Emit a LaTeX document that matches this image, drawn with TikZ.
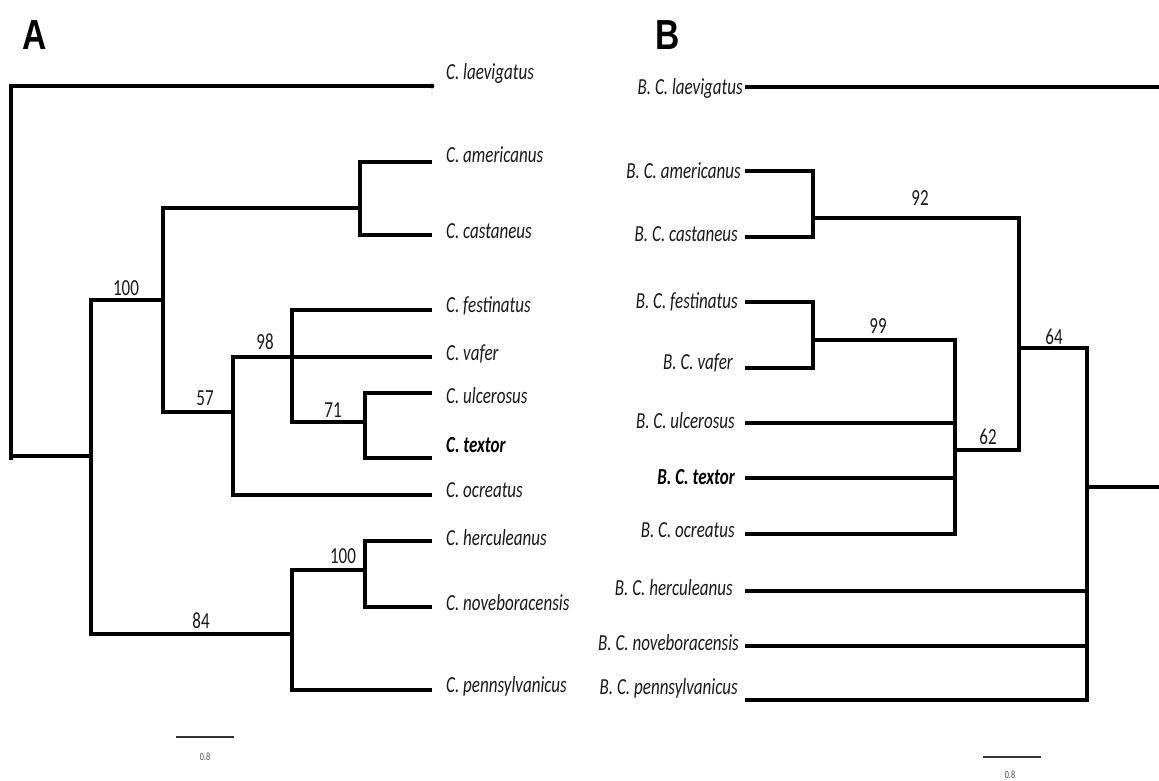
\documentclass[tikz,border=0pt]{standalone}
\usepackage{fontspec}
\newfontfamily\labfont[FakeStretch=0.74]{Carlito}
\newfontfamily\panfont[FakeStretch=0.8]{Liberation Sans}
\begin{document}
\begin{tikzpicture}[x=1pt,y=-1pt,
  br/.style={line width=3.1pt,black},
  scalebar/.style={line width=1.4pt,black!80},
  leafA/.style={anchor=base west,inner sep=0pt,font=\labfont\itshape\fontsize{23}{23}\selectfont,text=black!90},
  leafB/.style={anchor=base east,inner sep=0pt,font=\labfont\itshape\fontsize{23}{23}\selectfont,text=black!90},
  boot/.style={anchor=center,inner sep=0pt,font=\labfont\fontsize{23}{23}\selectfont,text=black!90},
  panel/.style={anchor=center,inner sep=0pt,font=\panfont\bfseries\fontsize{42}{42}\selectfont},
  scl/.style={anchor=center,inner sep=0pt,font=\labfont\fontsize{11}{11}\selectfont,text=black!70}]
\useasboundingbox[fill=white] (0,0) rectangle (1159,781);

% ---------------- Panel A ----------------
\node[panel] (pA) at (34.5,35) {A};

% leaf tips
\coordinate (tLae) at (432,86);
\coordinate (tAme) at (432,162);
\coordinate (tCas) at (432,235);
\coordinate (tFes) at (432,310);
\coordinate (tVaf) at (432,357);
\coordinate (tUlc) at (432,393);
\coordinate (tTex) at (432,458);
\coordinate (tOcr) at (432,495);
\coordinate (tHer) at (432,541);
\coordinate (tNov) at (432,607);
\coordinate (tPen) at (432,690);
% internal nodes
\coordinate (aR) at (11,456);
\coordinate (aRbot) at (11,460);
\coordinate (aN1) at (91,456);
\coordinate (aN2) at (163,300);
\coordinate (aNac) at (360,208);
\coordinate (aN57) at (233,412);
\coordinate (aN98) at (292,357);
\coordinate (aN71) at (365,422);
\coordinate (aN84) at (292,634);
\coordinate (aN100) at (365,570);

\draw[br] (tLae) -| (aR) -- (aRbot);
\fill (tLae) circle (2.4);
\draw[br] (aR) -- (aN1);
\draw[br] (aN2) -| (aN1) |- (aN84);
\draw[br] (aNac) -| (aN2) |- (aN57);
\draw[br] (tAme) -| (aNac) |- (tCas);
\draw[br] (tVaf) -| (aN57) |- (tOcr);
\draw[br] (tFes) -| (aN98) |- (aN71);
\draw[br] (tUlc) -| (aN71) |- (tTex);
\draw[br] (aN100) -| (aN84) |- (tPen);
\draw[br] (tHer) -| (aN100) |- (tNov);

% labels
\node[leafA] (lLae) at (446,79.5) {C. laevigatus};
\node[leafA] (lAme) at (446,162.5) {C. americanus};
\node[leafA] (lCas) at (446,238.5) {C. castaneus};
\node[leafA] (lFes) at (446,312.5) {C. festinatus};
\node[leafA] (lVaf) at (446,360.5) {C. vafer};
\node[leafA] (lUlc) at (446,403.5) {C. ulcerosus};
\node[leafA,font=\labfont\bfseries\itshape\fontsize{23}{23}\selectfont,text=black] (lTex) at (446,452.5) {C. textor};
\node[leafA] (lOcr) at (446,497.5) {C. ocreatus};
\node[leafA] (lHer) at (446,545.5) {C. herculeanus};
\node[leafA] (lNov) at (446,610.5) {C. noveboracensis};
\node[leafA] (lPen) at (446,692.5) {C. pennsylvanicus};

% bootstrap values
\node[boot] (bA100a) at (126,288) {100};
\node[boot] (bA98) at (265,342) {98};
\node[boot] (bA57) at (205,398) {57};
\node[boot] (bA71) at (333,410) {71};
\node[boot] (bA100b) at (343,556) {100};
\node[boot] (bA84) at (201,621) {84};

% scale bar
\coordinate (sA1) at (176,737);
\coordinate (sA2) at (234,737);
\draw[scalebar] (sA1) -- (sA2);
\node[scl] (sAl) at (205,757) {0.8};

% ---------------- Panel B ----------------
\node[panel] (pB) at (667.5,35) {B};

\coordinate (bLae) at (745,87);
\coordinate (bLaeEnd) at (1159,87);
\coordinate (bAme) at (745,171);
\coordinate (bCas) at (745,237);
\coordinate (bFes) at (745,302);
\coordinate (bVaf) at (745,368);
\coordinate (bUlc) at (745,423);
\coordinate (bTex) at (745,478);
\coordinate (bOcr) at (745,534);
\coordinate (bHer) at (745,591);
\coordinate (bNov) at (745,646);
\coordinate (bPen) at (745,700);

\coordinate (bRoot) at (1159,487);
\coordinate (bN64) at (1087,487);
\coordinate (bN92) at (1019,348);
\coordinate (bNac) at (813,218);
\coordinate (bN62) at (955,450);
\coordinate (bN99) at (813,340);

\draw[br] (bLae) -- (bLaeEnd);
\draw[br] (bRoot) -- (bN64);
\draw[br] (bN92) -| (bN64) |- (bPen);
\draw[br] (bHer) -- (bHer -| bN64);
\draw[br] (bNov) -- (bNov -| bN64);
\draw[br] (bNac) -| (bN92) |- (bN62);
\draw[br] (bN99) -| (bN62) |- (bOcr);
\draw[br] (bUlc) -- (bUlc -| bN62);
\draw[br] (bTex) -- (bTex -| bN62);
\draw[br] (bFes) -| (bN99) |- (bVaf);
\draw[br] (bAme) -| (bNac) |- (bCas);

\node[leafB] (mLae) at (743,94.5) {B. C. laevigatus};
\node[leafB] (mAme) at (741,178.5) {B. C. americanus};
\node[leafB] (mCas) at (738,241.5) {B. C. castaneus};
\node[leafB] (mFes) at (738,308.5) {B. C. festinatus};
\node[leafB] (mVaf) at (733,369.5) {B. C. vafer};
\node[leafB] (mUlc) at (735,428.5) {B. C. ulcerosus};
\node[leafB,font=\labfont\bfseries\itshape\fontsize{23}{23}\selectfont,text=black] (mTex) at (735,484.5) {B. C. textor};
\node[leafB] (mOcr) at (735,537.5) {B. C. ocreatus};
\node[leafB] (mHer) at (733,595.5) {B. C. herculeanus};
\node[leafB] (mNov) at (739,650.5) {B. C. noveboracensis};
\node[leafB] (mPen) at (738,694.5) {B. C. pennsylvanicus};

\node[boot] (bB92) at (920,198) {92};
\node[boot] (bB99) at (878,326) {99};
\node[boot] (bB64) at (1054,337) {64};
\node[boot] (bB62) at (988,437) {62};

\coordinate (sB1) at (983,757);
\coordinate (sB2) at (1041,757);
\draw[scalebar] (sB1) -- (sB2);
\node[scl] (sBl) at (1010,775) {0.8};
\end{tikzpicture}
\end{document}
